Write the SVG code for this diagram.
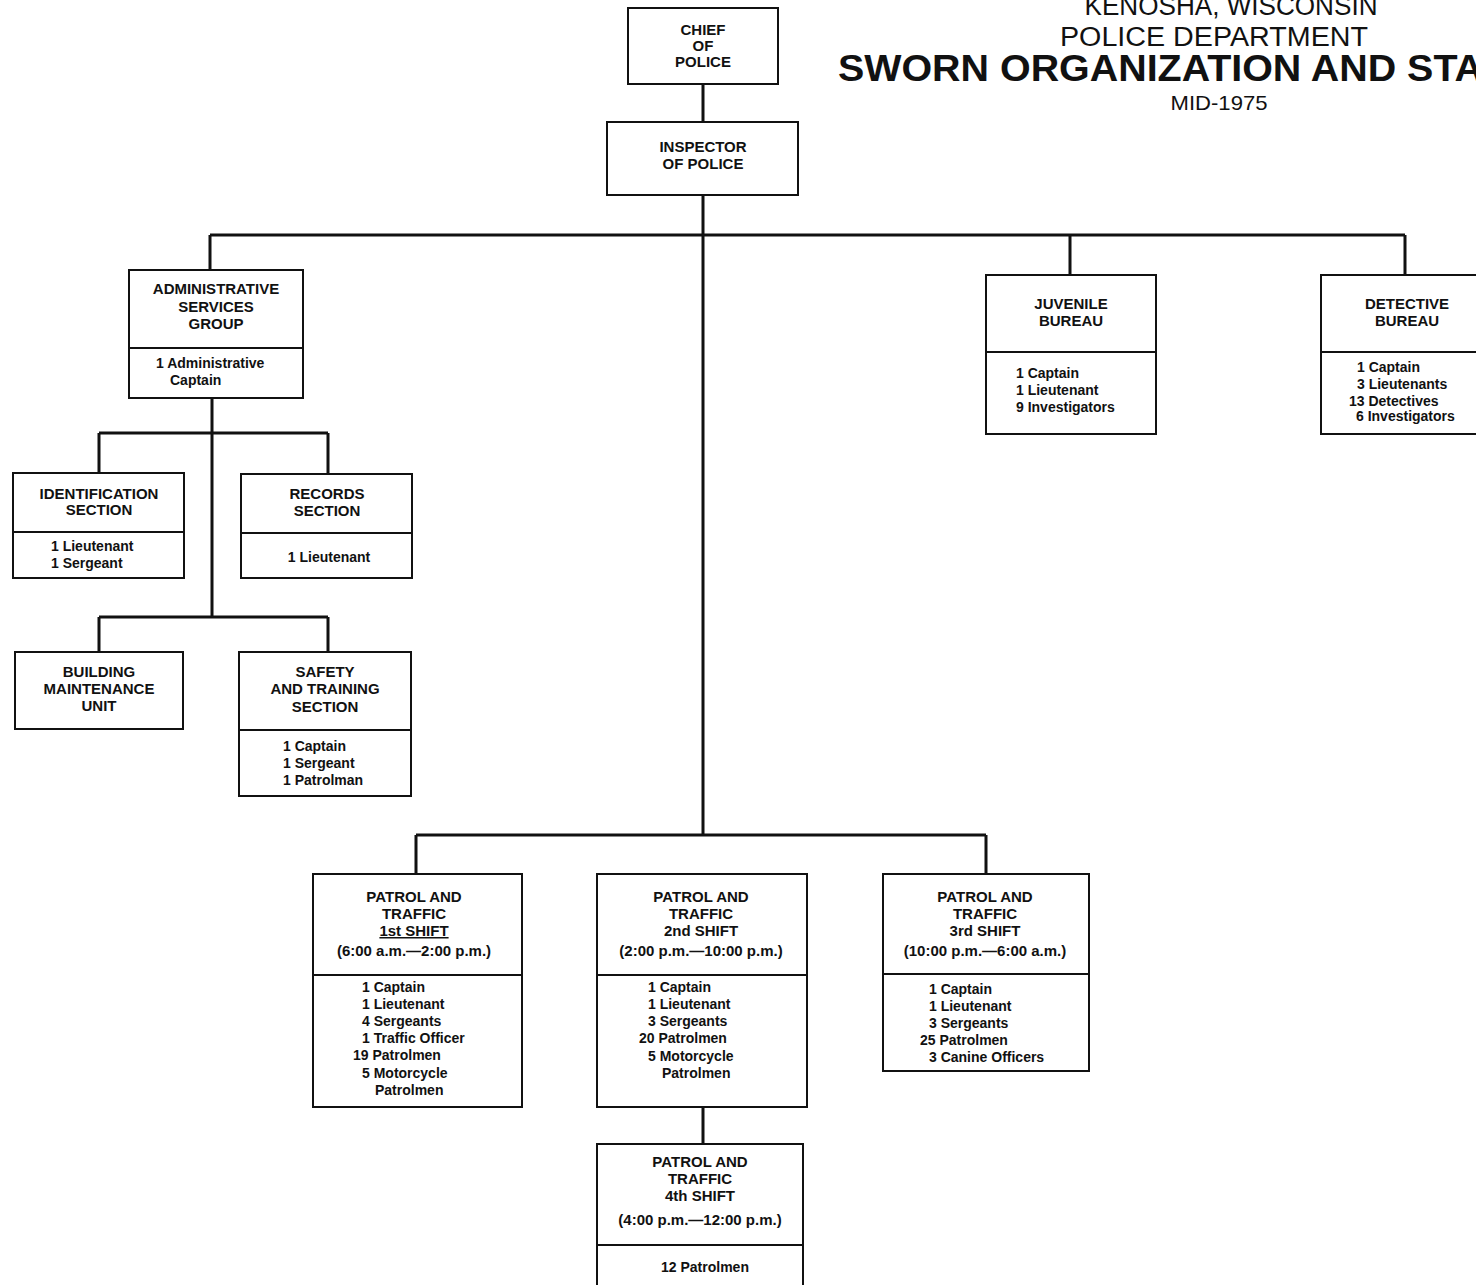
<svg xmlns="http://www.w3.org/2000/svg" width="1476" height="1285" viewBox="0 0 1476 1285">
<style>
.box{fill:#fff;stroke:#111;stroke-width:2}
.div{stroke:#111;stroke-width:2}
.con{stroke:#111;stroke-width:3;fill:none}
.h{font-family:"Liberation Sans",Arial,sans-serif;font-weight:bold;font-size:15px;fill:#111;text-anchor:middle}
.b{font-family:"Liberation Sans",Arial,sans-serif;font-weight:bold;font-size:14px;fill:#111}
.t{font-family:"Liberation Sans",Arial,sans-serif;fill:#111;text-anchor:middle}
</style>
<rect width="1476" height="1285" fill="#fff"/>
<g id="title">
<text class="t" x="1231" y="15" font-size="27" textLength="293" lengthAdjust="spacingAndGlyphs">KENOSHA, WISCONSIN</text>
<text class="t" x="1214" y="46" font-size="27" textLength="308" lengthAdjust="spacingAndGlyphs">POLICE DEPARTMENT</text>
<text x="838" y="81" font-family="Liberation Sans,Arial,sans-serif" font-weight="bold" font-size="36" fill="#111" textLength="645" lengthAdjust="spacingAndGlyphs">SWORN ORGANIZATION AND STA</text>
<text class="t" x="1219" y="110" font-size="21" textLength="97" lengthAdjust="spacingAndGlyphs">MID-1975</text>
</g>
<g id="connectors">
<path class="con" d="M703 84V122M703 195V835M210 235H1405M210 235V270M1070 235V275M1405 235V275"/>
<path class="con" d="M212 398V617M99 433H328M99 433V473M328 433V474M99 617H328M99 617V652M328 617V652"/>
<path class="con" d="M416 835H986M416 835V874M986 835V874M703 1107V1144"/>
</g>
<g id="chief">
<rect class="box" x="628" y="8" width="150" height="76"/>
<text class="h" x="703" y="35">CHIEF</text>
<text class="h" x="703" y="51">OF</text>
<text class="h" x="703" y="67">POLICE</text>
</g>
<g id="inspector">
<rect class="box" x="607" y="122" width="191" height="73"/>
<text class="h" x="703" y="152">INSPECTOR</text>
<text class="h" x="703" y="169">OF POLICE</text>
</g>
<g id="admin">
<rect class="box" x="129" y="270" width="174" height="128"/>
<line class="div" x1="129" y1="348" x2="303" y2="348"/>
<text class="h" x="216" y="294">ADMINISTRATIVE</text>
<text class="h" x="216" y="312">SERVICES</text>
<text class="h" x="216" y="329">GROUP</text>
<text class="b" x="156" y="368">1 Administrative</text>
<text class="b" x="170" y="385">Captain</text>
</g>
<g id="identification">
<rect class="box" x="13" y="473" width="171" height="105"/>
<line class="div" x1="13" y1="532" x2="184" y2="532"/>
<text class="h" x="99" y="499">IDENTIFICATION</text>
<text class="h" x="99" y="515">SECTION</text>
<text class="b" x="51" y="551">1 Lieutenant</text>
<text class="b" x="51" y="568">1 Sergeant</text>
</g>
<g id="records">
<rect class="box" x="241" y="474" width="171" height="104"/>
<line class="div" x1="241" y1="533" x2="412" y2="533"/>
<text class="h" x="327" y="499">RECORDS</text>
<text class="h" x="327" y="516">SECTION</text>
<text class="b" x="329" y="562" text-anchor="middle">1 Lieutenant</text>
</g>
<g id="building">
<rect class="box" x="15" y="652" width="168" height="77"/>
<text class="h" x="99" y="677">BUILDING</text>
<text class="h" x="99" y="694">MAINTENANCE</text>
<text class="h" x="99" y="711">UNIT</text>
</g>
<g id="safety">
<rect class="box" x="239" y="652" width="172" height="144"/>
<line class="div" x1="239" y1="730" x2="411" y2="730"/>
<text class="h" x="325" y="677">SAFETY</text>
<text class="h" x="325" y="694">AND TRAINING</text>
<text class="h" x="325" y="712">SECTION</text>
<text class="b" x="283" y="751">1 Captain</text>
<text class="b" x="283" y="768">1 Sergeant</text>
<text class="b" x="283" y="785">1 Patrolman</text>
</g>
<g id="juvenile">
<rect class="box" x="986" y="275" width="170" height="159"/>
<line class="div" x1="986" y1="352" x2="1156" y2="352"/>
<text class="h" x="1071" y="309">JUVENILE</text>
<text class="h" x="1071" y="326">BUREAU</text>
<text class="b" x="1016" y="378">1 Captain</text>
<text class="b" x="1016" y="395">1 Lieutenant</text>
<text class="b" x="1016" y="412">9 Investigators</text>
</g>
<g id="detective">
<rect class="box" x="1321" y="275" width="170" height="159"/>
<line class="div" x1="1321" y1="352" x2="1491" y2="352"/>
<text class="h" x="1407" y="309">DETECTIVE</text>
<text class="h" x="1407" y="326">BUREAU</text>
<text class="b" x="1357" y="372">1 Captain</text>
<text class="b" x="1357" y="389">3 Lieutenants</text>
<text class="b" x="1349" y="406">13 Detectives</text>
<text class="b" x="1356" y="421">6 Investigators</text>
</g>
<g id="patrol1">
<rect class="box" x="313" y="874" width="209" height="233"/>
<line class="div" x1="313" y1="975" x2="522" y2="975"/>
<text class="h" x="414" y="902">PATROL AND</text>
<text class="h" x="414" y="919">TRAFFIC</text>
<text class="h" x="414" y="936" text-decoration="underline">1st SHIFT</text>
<text class="h" x="414" y="956" font-size="14">(6:00 a.m.—2:00 p.m.)</text>
<text class="b" x="362" y="992">1 Captain</text>
<text class="b" x="362" y="1009">1 Lieutenant</text>
<text class="b" x="362" y="1026">4 Sergeants</text>
<text class="b" x="362" y="1043">1 Traffic Officer</text>
<text class="b" x="353" y="1060">19 Patrolmen</text>
<text class="b" x="362" y="1078">5 Motorcycle</text>
<text class="b" x="375" y="1095">Patrolmen</text>
</g>
<g id="patrol2">
<rect class="box" x="597" y="874" width="210" height="233"/>
<line class="div" x1="597" y1="975" x2="807" y2="975"/>
<text class="h" x="701" y="902">PATROL AND</text>
<text class="h" x="701" y="919">TRAFFIC</text>
<text class="h" x="701" y="936">2nd SHIFT</text>
<text class="h" x="701" y="956" font-size="14">(2:00 p.m.—10:00 p.m.)</text>
<text class="b" x="648" y="992">1 Captain</text>
<text class="b" x="648" y="1009">1 Lieutenant</text>
<text class="b" x="648" y="1026">3 Sergeants</text>
<text class="b" x="639" y="1043">20 Patrolmen</text>
<text class="b" x="648" y="1061">5 Motorcycle</text>
<text class="b" x="662" y="1078">Patrolmen</text>
</g>
<g id="patrol3">
<rect class="box" x="883" y="874" width="206" height="197"/>
<line class="div" x1="883" y1="974" x2="1089" y2="974"/>
<text class="h" x="985" y="902">PATROL AND</text>
<text class="h" x="985" y="919">TRAFFIC</text>
<text class="h" x="985" y="936">3rd SHIFT</text>
<text class="h" x="985" y="956" font-size="14">(10:00 p.m.—6:00 a.m.)</text>
<text class="b" x="929" y="994">1 Captain</text>
<text class="b" x="929" y="1011">1 Lieutenant</text>
<text class="b" x="929" y="1028">3 Sergeants</text>
<text class="b" x="920" y="1045">25 Patrolmen</text>
<text class="b" x="929" y="1062">3 Canine Officers</text>
</g>
<g id="patrol4">
<rect class="box" x="597" y="1144" width="206" height="150"/>
<line class="div" x1="597" y1="1245" x2="803" y2="1245"/>
<text class="h" x="700" y="1167">PATROL AND</text>
<text class="h" x="700" y="1184">TRAFFIC</text>
<text class="h" x="700" y="1201">4th SHIFT</text>
<text class="h" x="700" y="1225" font-size="14">(4:00 p.m.—12:00 p.m.)</text>
<text class="b" x="705" y="1272" text-anchor="middle">12 Patrolmen</text>
</g>
</svg>
